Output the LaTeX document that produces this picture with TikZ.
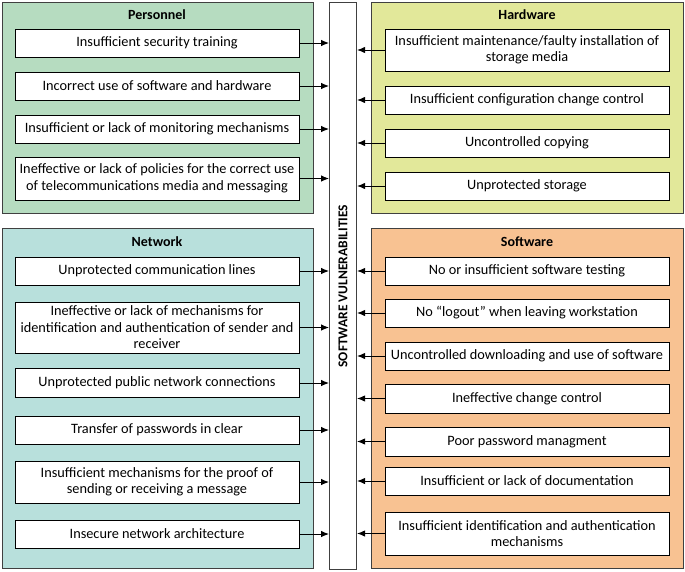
\documentclass[tikz,border=0pt]{standalone}
\usepackage{fontspec}
\setmainfont{Carlito}
\usetikzlibrary{arrows.meta}
\definecolor{persgreen}{HTML}{B6DCC0}
\definecolor{hardyellow}{HTML}{E2E89A}
\definecolor{netteal}{HTML}{B8E0DC}
\definecolor{softorange}{HTML}{F8C292}
\begin{document}
\begin{tikzpicture}[x=1pt, y=-1pt, line cap=round,
    font=\fontsize{14.3}{16.5}\selectfont,
    panel/.style={draw=black!75, line width=1.1pt, anchor=north west, inner sep=0pt},
    head/.style={font=\fontsize{14}{16}\selectfont\bfseries},
    item/.style={draw=black, fill=white, line width=0.9pt, align=center, inner sep=0pt,
        minimum width=284pt, minimum height=28pt},
    feed/.style={-{Latex[length=8pt,width=6.5pt]}, line width=0.9pt}]
    % software vulnerabilities: four groups feeding the central bar
    \useasboundingbox (0,0) rectangle (685,571);
    \def\xl{157}
    \def\xr{527}

    \node[panel, fill=persgreen, minimum width=311pt, minimum height=211pt] (pers) at (2,2) {};
    \node[panel, fill=hardyellow, minimum width=312pt, minimum height=211pt] (hard) at (371,2) {};
    \node[panel, fill=netteal, minimum width=311pt, minimum height=340pt] (net) at (2,228) {};
    \node[panel, fill=softorange, minimum width=312pt, minimum height=340pt] (soft) at (371,228) {};
    \node[panel, fill=white, minimum width=27pt, minimum height=567pt] (bar) at (329,2) {};
    \node[rotate=90, font=\fontsize{13.5}{15}\selectfont\bfseries] (bartext) at (bar) {SOFTWARE VULNERABILITIES};

    \node[head] (perstitle) at (\xl,15) {Personnel};
    \node[head] (hardtitle) at (\xr,15) {Hardware};
    \node[head] (nettitle) at (\xl,242) {Network};
    \node[head] (softtitle) at (\xr,242) {Software};

    % Personnel
    \node[item] (p1) at (\xl,43) {Insufficient security training};
    \node[item] (p2) at (\xl,86) {Incorrect use of software and hardware};
    \node[item] (p3) at (\xl,129) {Insufficient or lack of monitoring mechanisms};
    \node[item, minimum height=43pt] (p4) at (\xl,178.5) {Ineffective or lack of policies for the correct use\\of telecommunications media and messaging};

    % Hardware
    \node[item, minimum height=42pt] (h1) at (\xr,50) {Insufficient maintenance/faulty installation of\\storage media};
    \node[item] (h2) at (\xr,100) {Insufficient configuration change control};
    \node[item] (h3) at (\xr,143) {Uncontrolled copying};
    \node[item] (h4) at (\xr,186) {Unprotected storage};

    % Network
    \node[item] (n1) at (\xl,271) {Unprotected communication lines};
    \node[item, minimum height=51pt] (n2) at (\xl,327.5) {Ineffective or lack of mechanisms for\\identification and authentication of sender and\\receiver};
    \node[item, minimum height=29pt] (n3) at (\xl,383) {Unprotected public network connections};
    \node[item] (n4) at (\xl,430) {Transfer of passwords in clear};
    \node[item, minimum height=42pt] (n5) at (\xl,482) {Insufficient mechanisms for the proof of\\sending or receiving a message};
    \node[item] (n6) at (\xl,534) {Insecure network architecture};

    % Software
    \node[item] (s1) at (\xr,271) {No or insufficient software testing};
    \node[item] (s2) at (\xr,313) {No ``logout'' when leaving workstation};
    \node[item] (s3) at (\xr,356) {Uncontrolled downloading and use of software};
    \node[item, minimum height=29pt] (s4) at (\xr,398.5) {Ineffective change control};
    \node[item, minimum height=29pt] (s5) at (\xr,441.5) {Poor password managment};
    \node[item] (s6) at (\xr,481) {Insufficient or lack of documentation};
    \node[item, minimum height=43pt] (s7) at (\xr,533.5) {Insufficient identification and authentication\\mechanisms};

    \foreach \n in {p1,p2,p3,p4,n1,n2,n3,n4,n5,n6}
        \draw[feed] (\n.east) -- (\n.east -| bar.west);
    \foreach \n in {h1,h2,h3,h4,s1,s2,s3,s4,s5,s6,s7}
        \draw[feed] (\n.west) -- (\n.west -| bar.east);
\end{tikzpicture}
\end{document}
